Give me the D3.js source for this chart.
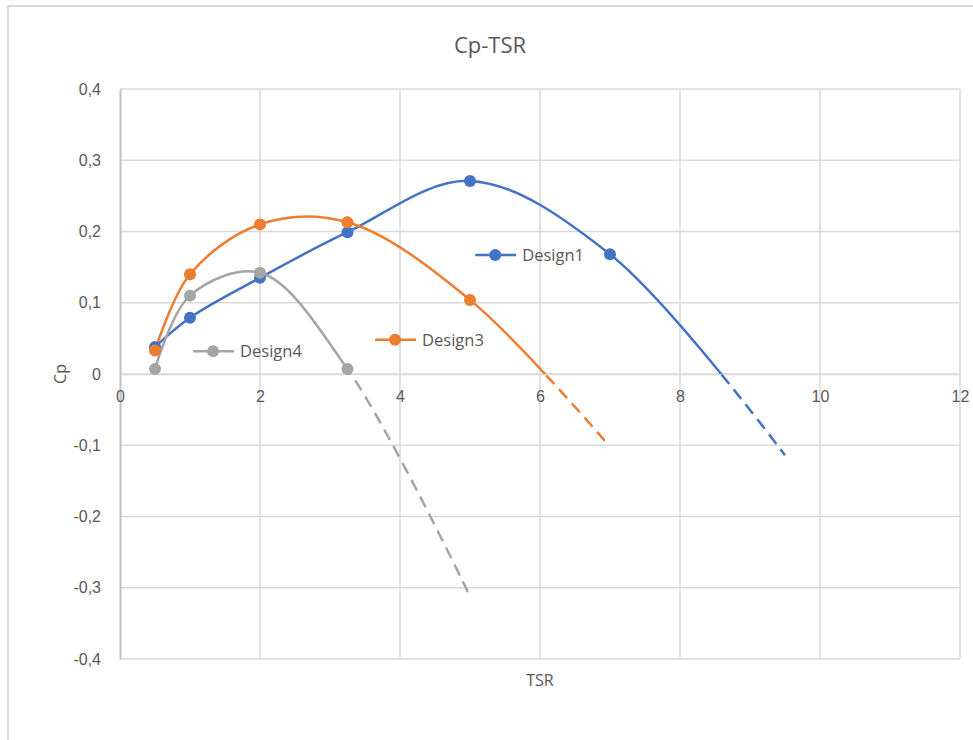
<!DOCTYPE html>
<html><head><meta charset="utf-8">
<script src="https://cdn.jsdelivr.net/npm/d3@7"></script>
<style>body{margin:0;background:#fff;}svg{display:block;font-family:"Open Sans","Noto Sans",sans-serif;}</style>
</head><body><svg id="c" width="973" height="740"></svg>
<script>
// ---- data ----
const title = "Cp-TSR";
const xLabel = "TSR";
const yLabel = "Cp";
const xTicks = [0, 2, 4, 6, 8, 10, 12];
const yTicks = [-0.4, -0.3, -0.2, -0.1, 0, 0.1, 0.2, 0.3, 0.4];
const seriesNames = ["Design1", "Design3", "Design4"];
const design1X = [0.5, 1, 2, 3.25, 5, 7];
const design1Y = [0.038, 0.079, 0.135, 0.199, 0.271, 0.168];
const design1TailX = [9.5];
const design1TailY = [-0.114];
const design1VisibleEnd = 9.5;
const design3X = [0.5, 1, 2, 3.25, 5];
const design3Y = [0.033, 0.140, 0.210, 0.213, 0.104];
const design3TailX = [7];
const design3TailY = [-0.102];
const design3VisibleEnd = 6.9;
const design4X = [0.5, 1, 2, 3.25];
const design4Y = [0.007, 0.110, 0.142, 0.007];
const design4TailX = [5];
const design4TailY = [-0.312];
const design4VisibleEnd = 4.95;
const legendPosX = [5.36, 3.93, 1.33];
const legendPosY = [0.167, 0.048, 0.032];
const colors = ["#4472C4", "#ED7D31", "#A5A5A5"];

const series = [
  {name: seriesNames[0], color: colors[0], xs: design1X, ys: design1Y, tx: design1TailX, ty: design1TailY, end: design1VisibleEnd, legend: [legendPosX[0], legendPosY[0]]},
  {name: seriesNames[1], color: colors[1], xs: design3X, ys: design3Y, tx: design3TailX, ty: design3TailY, end: design3VisibleEnd, legend: [legendPosX[1], legendPosY[1]]},
  {name: seriesNames[2], color: colors[2], xs: design4X, ys: design4Y, tx: design4TailX, ty: design4TailY, end: design4VisibleEnd, legend: [legendPosX[2], legendPosY[2]]}
];

const svg = d3.select("#c");
// outer border
svg.append("path").attr("d", "M8,740 V6 H973").attr("fill", "none").attr("stroke", "#d9d9d9").attr("stroke-width", 2);

const L = 120, R = 960, T = 89, B = 659;
const x = d3.scaleLinear().domain([0, 12]).range([L, R]);
const y = d3.scaleLinear().domain([-0.4, 0.4]).range([B, T]);
const fmt = v => (Math.abs(v) < 1e-9 ? "0" : d3.format(".1f")(v).replace(".", ",").replace("−", "-"));

// gridlines
const grid = svg.append("g");
grid.selectAll("line.h").data(yTicks).join("line")
  .attr("x1", L).attr("x2", R).attr("y1", d => y(d)).attr("y2", d => y(d))
  .attr("stroke", "#d9d9d9").attr("stroke-width", 1.5);
grid.selectAll("line.v").data(xTicks.slice(1)).join("line")
  .attr("x1", d => x(d)).attr("x2", d => x(d)).attr("y1", T).attr("y2", B)
  .attr("stroke", "#d9d9d9").attr("stroke-width", 1.5);

// y axis
const yAxis = svg.append("g").attr("transform", `translate(${L},0)`)
  .call(d3.axisLeft(y).tickValues(yTicks).tickFormat(fmt).tickSize(0).tickPadding(19));
yAxis.select(".domain").attr("stroke", "#bfbfbf").attr("stroke-width", 2);
yAxis.selectAll("text").attr("fill", "#595959").attr("font-size", 16);

// x axis at y=0
const xAxis = svg.append("g").attr("transform", `translate(0,${y(0)})`)
  .call(d3.axisBottom(x).tickValues(xTicks).tickFormat(d => d).tickSize(0).tickPadding(17));
xAxis.select(".domain").attr("stroke", "#d9d9d9").attr("stroke-width", 1.5);
xAxis.selectAll("text").attr("fill", "#595959").attr("font-size", 16);

// clips
const defs = svg.append("defs");
series.forEach((s, i) => {
  defs.append("clipPath").attr("id", "pos" + i).append("rect")
    .attr("x", L).attr("y", 0).attr("width", x(s.end) - L).attr("height", y(0));
  defs.append("clipPath").attr("id", "neg" + i).append("rect")
    .attr("x", L).attr("y", y(0)).attr("width", x(s.end) - L + 2).attr("height", 740 - y(0));
});

const line = d3.line().x(d => x(d[0])).y(d => y(d[1])).curve(d3.curveCatmullRom.alpha(0.5));

series.forEach((s, i) => {
  const pts = s.xs.map((v, j) => [v, s.ys[j]]).concat(s.tx.map((v, j) => [v, s.ty[j]]));
  const g = svg.append("g");
  g.append("path").attr("d", line(pts)).attr("fill", "none").attr("stroke", s.color)
    .attr("stroke-width", 2.5).attr("clip-path", `url(#pos${i})`);
  g.append("path").attr("d", line(pts)).attr("fill", "none").attr("stroke", s.color)
    .attr("stroke-width", 2.5).attr("stroke-dasharray", "12,7").attr("clip-path", `url(#neg${i})`);
});
// markers (drawn after all lines)
series.forEach((s, i) => {
  svg.append("g").selectAll("circle").data(s.xs.map((v, j) => [v, s.ys[j]])).join("circle")
    .attr("cx", d => x(d[0])).attr("cy", d => y(d[1])).attr("r", 6).attr("fill", s.color);
});

// legends inside plot
series.forEach(s => {
  const cx = x(s.legend[0]), cy = y(s.legend[1]);
  const lg = svg.append("g");
  lg.append("line").attr("x1", cx - 20).attr("x2", cx + 21).attr("y1", cy).attr("y2", cy)
    .attr("stroke", s.color).attr("stroke-width", 2.5);
  lg.append("circle").attr("cx", cx).attr("cy", cy).attr("r", 6).attr("fill", s.color);
  lg.append("text").attr("x", cx + 27).attr("y", cy + 6).attr("fill", "#595959")
    .attr("font-size", 16.5).text(s.name);
});

// title & axis labels
svg.append("text").attr("x", 490).attr("y", 53).attr("text-anchor", "middle")
  .attr("fill", "#595959").attr("font-size", 22).text(title);
svg.append("text").attr("x", 540).attr("y", 686).attr("text-anchor", "middle")
  .attr("fill", "#595959").attr("font-size", 16).text(xLabel);
svg.append("text").attr("transform", `translate(66,${y(0)}) rotate(-90)`).attr("text-anchor", "middle")
  .attr("fill", "#595959").attr("font-size", 16).text(yLabel);
</script></body></html>
